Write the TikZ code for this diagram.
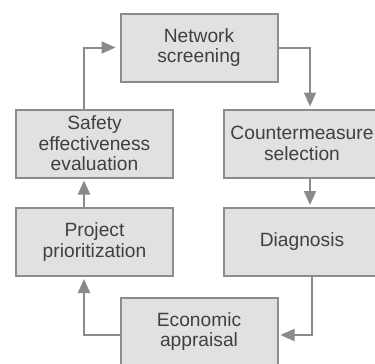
\documentclass[tikz,border=0pt]{standalone}
\usepackage{fontspec}
\setmainfont{Liberation Sans}
\usetikzlibrary{arrows.meta}
\definecolor{boxfill}{HTML}{E1E1E1}
\definecolor{boxline}{HTML}{8C8C8C}
\definecolor{arrowc}{HTML}{8A8A8A}
\definecolor{txt}{HTML}{404040}
\tikzset{
  stepbox/.style={draw=boxline, fill=boxfill, line width=2pt, minimum width=157pt,
    minimum height=68pt, inner sep=0pt, align=center, text=txt,
    font=\fontsize{19.2}{20.5}\selectfont},
  flow/.style={draw=arrowc, line width=2pt, -{Triangle[length=14pt,width=12pt]},
    shorten >=2pt}
}
\begin{document}
\begin{tikzpicture}[x=1pt,y=-1pt]
\useasboundingbox (0,0) rectangle (375,364);
\clip (0,0) rectangle (375,364);
\node[stepbox] (net) at (199,47.5) {Network\\screening};
\node[stepbox] (safety) at (94.5,143.5) {Safety\\effectiveness\\evaluation};
\node[stepbox] (counter) at (302,143.5) {Countermeasure\\selection};
\node[stepbox] (project) at (94.5,242) {Project\\prioritization};
\node[stepbox] (diag) at (302,242) {Diagnosis};
\node[stepbox] (econ) at (199,331.5) {Economic\\appraisal};
\draw[flow] (net.east) -| ([xshift=8pt]counter.north);
\draw[flow] ([xshift=8pt]counter.south) -- ([xshift=8pt]diag.north);
\draw[flow] ([xshift=10pt]diag.south) |- ([yshift=-3.5pt]econ.east);
\draw[flow] ([yshift=-3.5pt]econ.west) -| ([xshift=-10.5pt]project.south);
\draw[flow] ([xshift=-10.5pt]project.north) -- ([xshift=-10.5pt]safety.south);
\draw[flow, shorten >=4pt] ([xshift=-10.5pt]safety.north) |- (net.west);
\end{tikzpicture}
\end{document}
